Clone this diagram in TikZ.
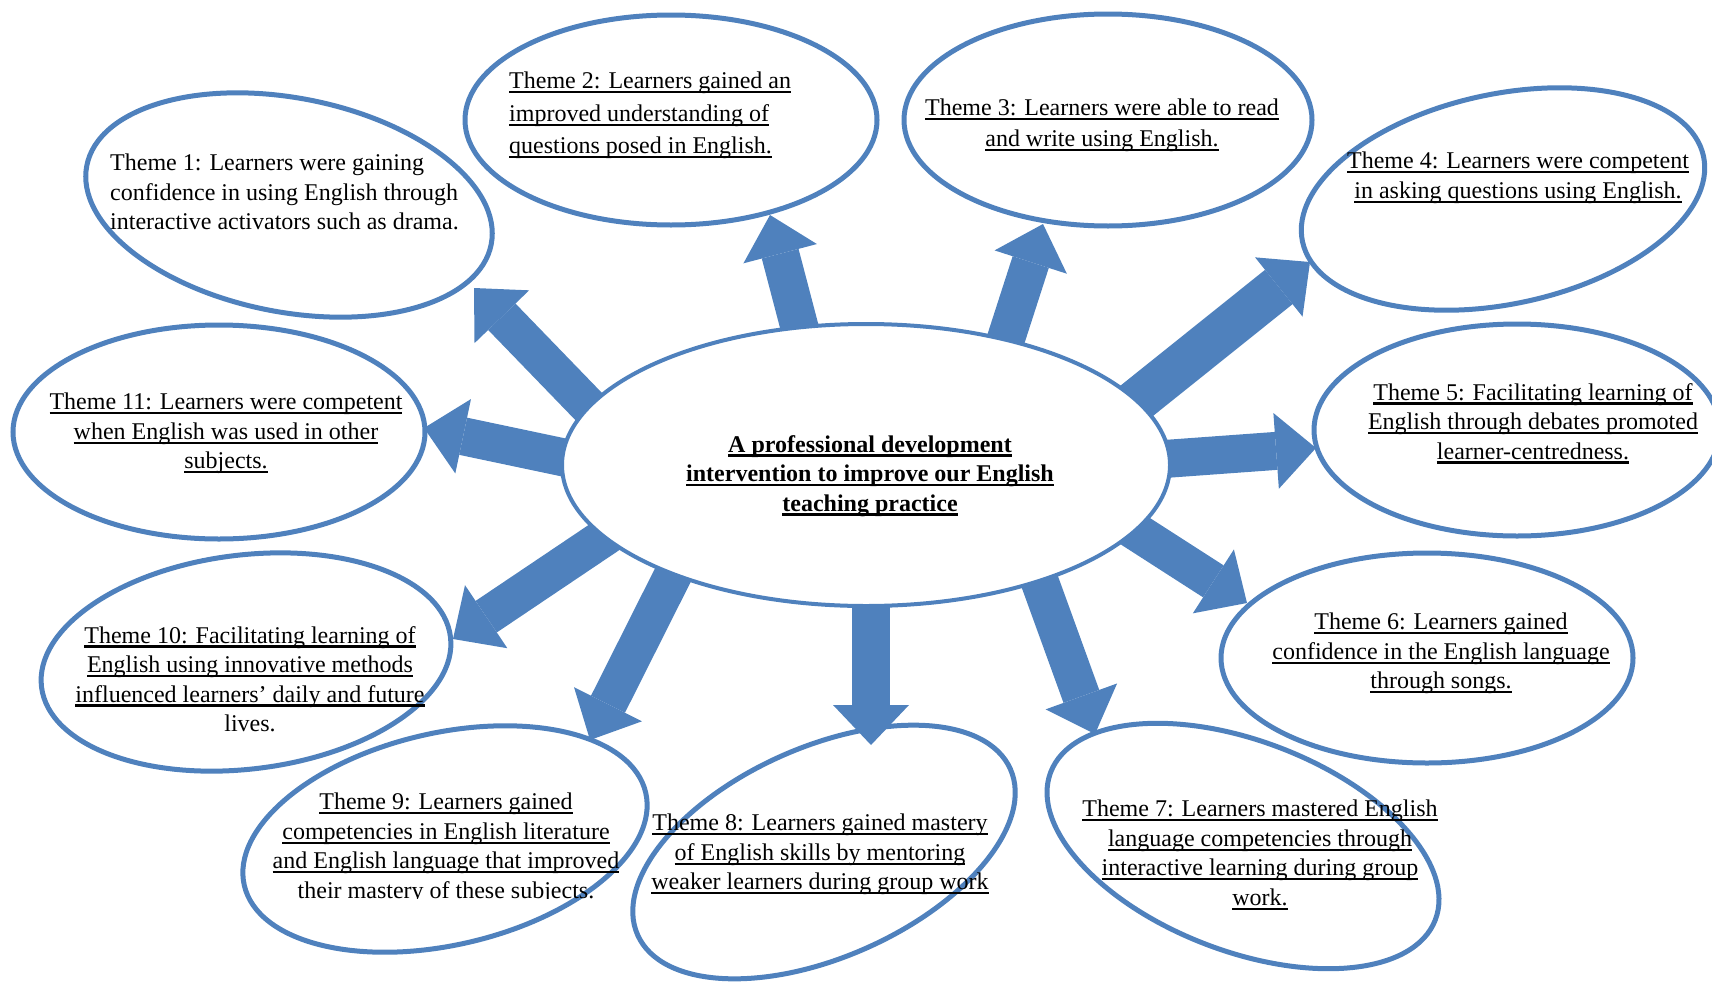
\documentclass[tikz,border=0pt]{standalone}
\usepackage{fontspec}
\setmainfont{Liberation Serif}
\usetikzlibrary{shapes.geometric,calc}
\definecolor{themeblue}{RGB}{79,129,189}
% underline a single line of text with a rule just below the baseline
\newcommand{\uln}[1]{\setbox0=\hbox{#1}\rlap{\rule[-4.5pt]{\wd0}{2.2pt}}\box0}
\begin{document}
\begin{tikzpicture}[x=1pt,y=-1pt,
  themeshape/.style={ellipse, draw=themeblue, line width=5pt, fill=white, inner sep=0pt},
  hubshape/.style={ellipse, draw=themeblue, line width=4pt, fill=white, inner sep=0pt,
    minimum width=608pt, minimum height=282pt},
  themetext/.style={inner sep=0pt, anchor=north, align=center,
    font=\fontsize{24}{29.5}\selectfont},
  widegap/.style={font=\fontsize{24}{#1}\selectfont}]
\useasboundingbox (0,0) rectangle (1712,985);
\clip (0,0) rectangle (1712,985);

% outer theme ellipses
\node[themeshape, minimum width=412pt, minimum height=214pt, rotate=-11] (t1) at (289,205) {};
\node[themeshape, minimum width=412pt, minimum height=210pt] (t2) at (671,120) {};
\node[themeshape, minimum width=408pt, minimum height=212pt] (t3) at (1108,120) {};
\node[themeshape, minimum width=410pt, minimum height=210pt, rotate=12] (t4) at (1503,199) {};
\node[themeshape, minimum width=406pt, minimum height=212pt] (t5) at (1517,430) {};
\node[themeshape, minimum width=412pt, minimum height=210pt] (t6) at (1427,658) {};
\node[themeshape, minimum width=412pt, minimum height=210pt, rotate=-21] (t7) at (1243,846) {};
\node[themeshape, minimum width=408pt, minimum height=210pt, rotate=24] (t8) at (824,852) {};
\node[themeshape, minimum width=412pt, minimum height=212pt, rotate=13] (t9) at (445,839) {};
\node[themeshape, minimum width=412pt, minimum height=214pt, rotate=7] (t10) at (246,662) {};
\node[themeshape, minimum width=412pt, minimum height=214pt] (t11) at (219,432) {};

% block arrows radiating from the hub: start / tip / shaft width
\foreach \n/\sx/\sy/\ex/\ey/\w in {
    1/623/442/474/288/38,
    2/812/375/770/215/38,
    3/992/382/1043/224/38,
    4/1099/431/1310/262/44,
    5/1123/462/1316/448/38,
    6/1107/513/1247/603/38,
    7/1029/552/1095/734/38,
    8/871/579/871/745/38,
    9/689/543/590/740/38,
    10/633/518/453/639/38,
    11/609/467/424/428/38} {
  \coordinate (a\n s) at (\sx,\sy);
  \coordinate (a\n e) at (\ex,\ey);
  \coordinate (a\n h) at ($(a\n e)!40pt!(a\n s)$);
  \draw[themeblue, line width=\w pt] (a\n s) -- (a\n h);
  \fill[themeblue] (a\n e) -- ($(a\n h)!38pt!90:(a\n e)$) -- ($(a\n h)!38pt!-90:(a\n e)$) -- cycle;
}

% central hub
\node[hubshape] (hub) at (866,465) {};

% texts
\node[themetext, font=\fontsize{24}{29.5}\selectfont\bfseries] (hubtext) at (870,435)
  {\uln{A professional development}\\\uln{intervention to improve our English}\\\uln{teaching practice}};

\node[themetext, anchor=north west, align=left] (x1) at (110,154)
  {Theme 1: Learners were gaining\\confidence in using English through\\interactive activators such as drama.};
\node[themetext, anchor=north west, align=left, widegap=32.5] (x2) at (509,72)
  {\uln{Theme 2: Learners gained an}\\\uln{improved understanding of}\\\uln{questions posed in English.}};
\node[themetext, widegap=30.5] (x3) at (1102,99)
  {\uln{Theme 3: Learners were able to read}\\\uln{and write using English.}};
\node[themetext] (x4) at (1518,152)
  {\uln{Theme 4: Learners were competent}\\\uln{in asking questions using English.}};
\node[themetext] (x5) at (1533,383)
  {\uln{Theme 5: Facilitating learning of}\\\uln{English through debates promoted}\\\uln{learner-centredness.}};
\node[themetext] (x6) at (1441,613)
  {\uln{Theme 6: Learners gained}\\\uln{confidence in the English language}\\\uln{through songs.}};
\node[themetext] (x7) at (1260,800)
  {\uln{Theme 7: Learners mastered English}\\\uln{language competencies through}\\\uln{interactive learning during group}\\\uln{work.}};
\node[themetext] (x8) at (820,814)
  {\uln{Theme 8: Learners gained mastery}\\\uln{of English skills by mentoring}\\\uln{weaker learners during group work}};
\begin{scope}
  \clip (200,700) rectangle (700,898);
  \node[themetext] (x9) at (446,793)
    {\uln{Theme 9: Learners gained}\\\uln{competencies in English literature}\\\uln{and English language that improved}\\their mastery of these subjects.};
\end{scope}
\node[themetext] (x10) at (250,626)
  {\uln{Theme 10: Facilitating learning of}\\\uln{English using innovative methods}\\\uln{influenced learners’ daily and future}\\lives.};
\node[themetext] (x11) at (226,393)
  {\uln{Theme 11: Learners were competent}\\\uln{when English was used in other}\\\uln{subjects.}};
\end{tikzpicture}
\end{document}
